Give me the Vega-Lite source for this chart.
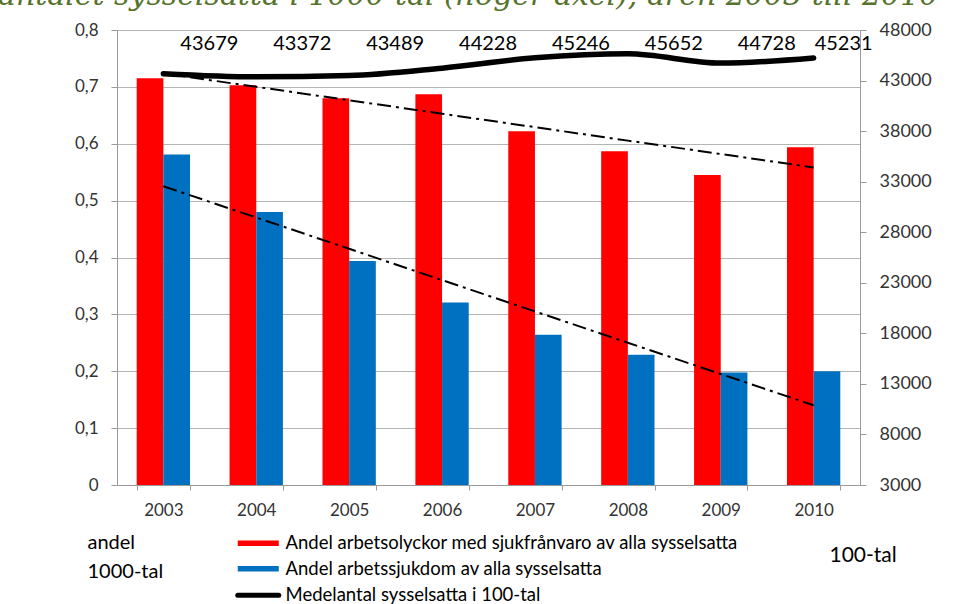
{
  "$schema": "https://vega.github.io/schema/vega-lite/v6.json",
  "width": 743,
  "height": 455,
  "autosize": {"type": "none"},
  "padding": {"left": 117, "top": 30, "right": 116, "bottom": 119},
  "background": "white",
  "title": {
    "text": "antalet sysselsatta i 1000-tal (höger axel), åren 2003 till 2010",
    "anchor": "start",
    "frame": "group",
    "font": "DejaVu Serif",
    "fontStyle": "italic",
    "fontWeight": "normal",
    "fontSize": 30,
    "color": "#56722B",
    "baseline": "alphabetic",
    "offset": 0,
    "dx": -119,
    "dy": 14
  },
  "config": {
    "view": {"stroke": null},
    "font": "Lato",
    "axis": {
      "labelFont": "Lato",
      "labelColor": "#333333",
      "domainColor": "#9a9a9a",
      "tickColor": "#9a9a9a",
      "gridColor": "#b4b4b4",
      "titleFont": "Lato",
      "titleFontWeight": "normal",
      "titleColor": "#000000"
    },
    "legend": {"labelFont": "Lato"}
  },
  "datasets": {
    "bars": [
      {"year": "2003", "serie": "Andel arbetsolyckor med sjukfrånvaro av alla sysselsatta", "andel": 0.715},
      {"year": "2003", "serie": "Andel arbetssjukdom av alla sysselsatta", "andel": 0.581},
      {"year": "2004", "serie": "Andel arbetsolyckor med sjukfrånvaro av alla sysselsatta", "andel": 0.703},
      {"year": "2004", "serie": "Andel arbetssjukdom av alla sysselsatta", "andel": 0.48},
      {"year": "2005", "serie": "Andel arbetsolyckor med sjukfrånvaro av alla sysselsatta", "andel": 0.68},
      {"year": "2005", "serie": "Andel arbetssjukdom av alla sysselsatta", "andel": 0.394},
      {"year": "2006", "serie": "Andel arbetsolyckor med sjukfrånvaro av alla sysselsatta", "andel": 0.687},
      {"year": "2006", "serie": "Andel arbetssjukdom av alla sysselsatta", "andel": 0.321},
      {"year": "2007", "serie": "Andel arbetsolyckor med sjukfrånvaro av alla sysselsatta", "andel": 0.622},
      {"year": "2007", "serie": "Andel arbetssjukdom av alla sysselsatta", "andel": 0.264},
      {"year": "2008", "serie": "Andel arbetsolyckor med sjukfrånvaro av alla sysselsatta", "andel": 0.587},
      {"year": "2008", "serie": "Andel arbetssjukdom av alla sysselsatta", "andel": 0.229},
      {"year": "2009", "serie": "Andel arbetsolyckor med sjukfrånvaro av alla sysselsatta", "andel": 0.545},
      {"year": "2009", "serie": "Andel arbetssjukdom av alla sysselsatta", "andel": 0.198},
      {"year": "2010", "serie": "Andel arbetsolyckor med sjukfrånvaro av alla sysselsatta", "andel": 0.594},
      {"year": "2010", "serie": "Andel arbetssjukdom av alla sysselsatta", "andel": 0.2}
    ],
    "years": [
      {"year": "2003", "trend_olyckor": 0.7237, "trend_sjukdom": 0.5253, "sysselsatta": 43679},
      {"year": "2004", "trend_olyckor": 0.7001, "trend_sjukdom": 0.4703, "sysselsatta": 43372},
      {"year": "2005", "trend_olyckor": 0.6764, "trend_sjukdom": 0.4153, "sysselsatta": 43489},
      {"year": "2006", "trend_olyckor": 0.6528, "trend_sjukdom": 0.3603, "sysselsatta": 44228},
      {"year": "2007", "trend_olyckor": 0.6292, "trend_sjukdom": 0.3052, "sysselsatta": 45246},
      {"year": "2008", "trend_olyckor": 0.6055, "trend_sjukdom": 0.2502, "sysselsatta": 45652},
      {"year": "2009", "trend_olyckor": 0.5819, "trend_sjukdom": 0.1952, "sysselsatta": 44728},
      {"year": "2010", "trend_olyckor": 0.5583, "trend_sjukdom": 0.1402, "sysselsatta": 45231}
    ]
  },
  "layer": [
    {
      "layer": [
        {
          "data": {"name": "bars"},
          "mark": {"type": "bar"},
          "encoding": {
            "x": {
              "field": "year", "type": "nominal",
              "scale": {"paddingInner": 0.426, "paddingOuter": 0.212},
              "axis": {
                "title": null, "labelAngle": 0, "labelFontSize": 17, "labelPadding": 12,
                "tickBand": "extent", "tickSize": 5, "grid": false
              }
            },
            "xOffset": {
              "field": "serie", "type": "nominal",
              "scale": {"paddingInner": 0, "paddingOuter": 0,
                "domain": ["Andel arbetsolyckor med sjukfrånvaro av alla sysselsatta", "Andel arbetssjukdom av alla sysselsatta"]}
            },
            "y": {
              "field": "andel", "type": "quantitative",
              "scale": {"domain": [0, 0.8], "nice": false},
              "axis": {
                "values": [0, 0.1, 0.2, 0.3, 0.4, 0.5, 0.6, 0.7, 0.8],
                "labelExpr": "datum.value == 0 ? '0' : replace(format(datum.value, '.1f'), '.', ',')",
                "labelFontSize": 17, "labelPadding": 13, "tickSize": 6, "grid": true,
                "title": ["andel", "1000-tal"], "titleAngle": 0, "titleAlign": "left",
                "titleBaseline": "alphabetic", "titleX": -30, "titleY": 518,
                "titleFontSize": 20, "titleLineHeight": 29
              }
            },
            "color": {
              "field": "serie", "type": "nominal",
              "scale": {
                "domain": ["Andel arbetsolyckor med sjukfrånvaro av alla sysselsatta", "Andel arbetssjukdom av alla sysselsatta", "Medelantal sysselsatta i 100-tal"],
                "range": ["#FF0000", "#0070C0", "#000000"]
              },
              "legend": {
                "title": null, "orient": "none", "legendX": 123, "legendY": 504,
                "direction": "vertical", "padding": 0, "rowPadding": 6.5,
                "labelFontSize": 18.5, "labelColor": "#000000", "labelOffset": 18, "labelLimit": 0,
                "symbolOffset": 9,
                "symbolSize": 1681, "symbolType": "M-1,-0.134H1V0.134H-1Z",
                "symbolStrokeWidth": 0,
                "encode": {
                  "symbols": {
                    "update": {
                      "shape": {"signal": "datum.value === 'Medelantal sysselsatta i 100-tal' ? 'stroke' : 'M-1,-0.134H1V0.134H-1Z'"},
                      "fill": {"signal": "datum.value === 'Medelantal sysselsatta i 100-tal' ? 'transparent' : (datum.value === 'Andel arbetssjukdom av alla sysselsatta' ? '#0070C0' : '#FF0000')"},
                      "stroke": {"signal": "datum.value === 'Medelantal sysselsatta i 100-tal' ? '#000000' : 'transparent'"},
                      "strokeWidth": {"signal": "datum.value === 'Medelantal sysselsatta i 100-tal' ? 5 : 0"},
                      "strokeCap": {"value": "round"},
                      "opacity": {"value": 1}
                    }
                  }
                }
              }
            }
          }
        },
        {
          "data": {"name": "years"},
          "mark": {"type": "line", "color": "#000000", "strokeWidth": 2, "strokeDash": [14, 5, 3, 5]},
          "encoding": {
            "x": {"field": "year", "type": "nominal"},
            "y": {"field": "trend_olyckor", "type": "quantitative"}
          }
        },
        {
          "data": {"name": "years"},
          "mark": {"type": "line", "color": "#000000", "strokeWidth": 2, "strokeDash": [14, 5, 3, 5]},
          "encoding": {
            "x": {"field": "year", "type": "nominal"},
            "y": {"field": "trend_sjukdom", "type": "quantitative"}
          }
        }
      ]
    },
    {
      "layer": [
        {
          "data": {"name": "years"},
          "mark": {"type": "line", "strokeWidth": 5.5, "interpolate": "monotone", "strokeCap": "round"},
          "encoding": {
            "x": {"field": "year", "type": "nominal"},
            "y": {
              "field": "sysselsatta", "type": "quantitative",
              "scale": {"domain": [3000, 48000], "nice": false, "zero": false},
              "axis": {
                "orient": "right",
                "values": [3000, 8000, 13000, 18000, 23000, 28000, 33000, 38000, 43000, 48000],
                "format": "d", "labelFontSize": 18, "labelPadding": 13, "tickSize": 6, "grid": false,
                "title": "100-tal", "titleAngle": 0, "titleAlign": "left", "titleBaseline": "alphabetic",
                "titleX": -31, "titleY": 531, "titleFontSize": 21
              }
            },
            "color": {"datum": "Medelantal sysselsatta i 100-tal"}
          }
        },
        {
          "data": {"name": "years"},
          "transform": [{"filter": "datum.year != '2010'"}],
          "mark": {"type": "text", "align": "left", "baseline": "alphabetic", "dx": 17, "fontSize": 20, "font": "Lato", "color": "#000000"},
          "encoding": {
            "x": {"field": "year", "type": "nominal"},
            "y": {"datum": 46000, "type": "quantitative"},
            "text": {"field": "sysselsatta", "type": "quantitative", "format": "d"}
          }
        },
        {
          "data": {"name": "years"},
          "transform": [{"filter": "datum.year == '2010'"}],
          "mark": {"type": "text", "align": "left", "baseline": "alphabetic", "dx": 1, "fontSize": 20, "font": "Lato", "color": "#000000"},
          "encoding": {
            "x": {"field": "year", "type": "nominal"},
            "y": {"datum": 46000, "type": "quantitative"},
            "text": {"field": "sysselsatta", "type": "quantitative", "format": "d"}
          }
        }
      ]
    }
  ],
  "resolve": {"scale": {"y": "independent"}}
}
